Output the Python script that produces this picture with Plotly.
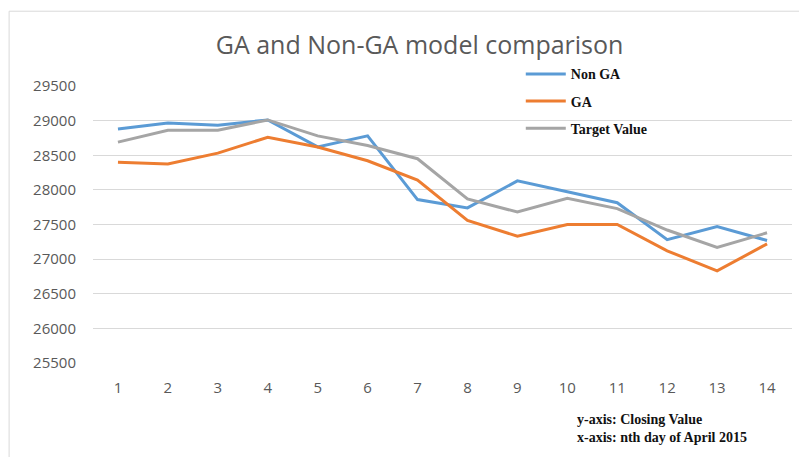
import plotly.graph_objects as go

days = [str(i) for i in range(1, 15)]
non_ga = [28880, 28965, 28935, 29010, 28620, 28780, 27860, 27740, 28130, 27970, 27815, 27280, 27470, 27270]
ga = [28400, 28375, 28530, 28760, 28620, 28420, 28140, 27560, 27330, 27500, 27500, 27120, 26830, 27220]
target = [28690, 28860, 28860, 29010, 28780, 28640, 28450, 27870, 27680, 27880, 27730, 27420, 27170, 27380]
y_ticks = [25500, 26000, 26500, 27000, 27500, 28000, 28500, 29000, 29500]

series = [
    ("Non GA", non_ga, "#5B9BD5"),
    ("GA", ga, "#ED7D31"),
    ("Target Value", target, "#A5A5A5"),
]

fig = go.Figure()
for name, vals, color in series:
    fig.add_trace(go.Scatter(x=days, y=vals, mode="lines", name=name,
                             legendgroup=name,
                             line=dict(color=color, width=3)))

fig.update_layout(
    width=807, height=457,
    margin=dict(l=85, r=23, t=78, b=102, autoexpand=False),
    paper_bgcolor="white", plot_bgcolor="white",
    title=dict(text="GA and Non-GA model comparison", x=0.51, xanchor="center",
               y=0.918, yanchor="middle",
               font=dict(family="Open Sans", size=25, color="#595959")),
    xaxis=dict(type="category", showgrid=False, zeroline=False,
               range=[-0.5, 13.5], automargin=False,
               showline=False, ticks="", ticklabelstandoff=14,
               tickfont=dict(family="Open Sans", size=15, color="#595959")),
    yaxis=dict(range=[25500, 29500], tickvals=y_ticks, tickformat="d",
               showgrid=True, automargin=False,
               gridcolor="#D9D9D9", gridwidth=1, zeroline=False, ticks="",
               ticklabelstandoff=16,
               tickfont=dict(family="Open Sans", size=15, color="#595959")),
    legend=dict(x=0.612, y=1.1, xanchor="left", yanchor="top",
                bgcolor="rgba(0,0,0,0)", tracegroupgap=6,
                font=dict(family="Liberation Serif", size=14, color="#111111",
                          weight="bold"),
                itemwidth=40),
    showlegend=True,
)

fig.add_shape(type="rect", xref="paper", yref="paper",
              x0=-0.12, x1=1.03, y0=-0.37, y1=1.27,
              line=dict(color="#D9D9D9", width=1))

fig.add_annotation(xref="paper", yref="paper", x=0.689, y=-0.17,
                   xanchor="left", yanchor="top", align="left", showarrow=False,
                   text="<b>y-axis: Closing Value<br>x-axis: nth day of April 2015</b>",
                   font=dict(family="Liberation Serif", size=14, color="#111111"))

fig.write_html("out.html")
